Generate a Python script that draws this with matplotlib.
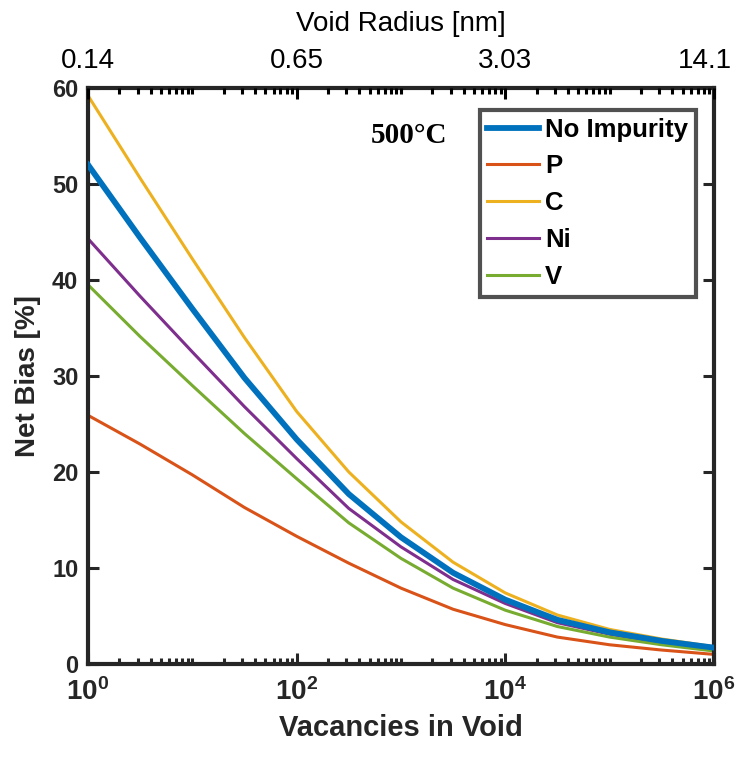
import matplotlib
matplotlib.use('Agg')
import matplotlib.pyplot as plt
from matplotlib.ticker import FixedLocator, FixedFormatter, LogLocator, NullFormatter
from matplotlib.transforms import ScaledTranslation
import numpy as np

# values, every half decade
vacancies = [1, 3.16, 10, 31.6, 100, 316, 1e3, 3.16e3, 1e4, 3.16e4, 1e5, 3.16e5, 1e6]
bias_none = [52.0, 44.4, 37.0, 29.8, 23.4, 17.7, 13.2, 9.5, 6.7, 4.6, 3.3, 2.4, 1.7]
bias_p = [25.9, 22.9, 19.7, 16.3, 13.3, 10.5, 7.9, 5.7, 4.1, 2.8, 2.0, 1.45, 1.0]
bias_c = [59.2, 50.6, 42.2, 34.0, 26.3, 20.0, 14.8, 10.6, 7.4, 5.1, 3.6, 2.6, 1.8]
bias_ni = [44.3, 38.3, 32.5, 26.8, 21.4, 16.2, 12.2, 8.8, 6.3, 4.3, 3.1, 2.2, 1.55]
bias_v = [39.5, 34.1, 29.0, 24.0, 19.3, 14.7, 11.0, 7.9, 5.6, 3.9, 2.8, 2.0, 1.35]

bottom_ticks = [1, 1e2, 1e4, 1e6]
bottom_labels = [r'$\mathbf{10^{0}}$', r'$\mathbf{10^{2}}$', r'$\mathbf{10^{4}}$', r'$\mathbf{10^{6}}$']
radius_labels = ['0.14', '0.65', '3.03', '14.1']

plt.rcParams['font.family'] = ['Liberation Sans', 'DejaVu Sans']
plt.rcParams['mathtext.fontset'] = 'custom'
plt.rcParams['mathtext.rm'] = 'Liberation Sans'
plt.rcParams['mathtext.bf'] = 'Liberation Sans:bold'

dark = '#262626'

fig = plt.figure(figsize=(7.36, 7.61), dpi=100)
ax = fig.add_axes([0.1196, 0.1275, 0.8504, 0.7569])

ax.plot(vacancies, bias_none, color='#0072BD', lw=4.2, label='No Impurity', zorder=3)
ax.plot(vacancies, bias_p, color='#D95319', lw=2.2, label='P')
ax.plot(vacancies, bias_c, color='#EDB120', lw=2.2, label='C')
ax.plot(vacancies, bias_ni, color='#7E2F8E', lw=2.2, label='Ni')
ax.plot(vacancies, bias_v, color='#77AC30', lw=2.2, label='V')

ax.set_xscale('log')
ax.set_xlim(1, 1e6)
ax.set_ylim(0, 60)
ax.xaxis.set_major_locator(FixedLocator(bottom_ticks))
ax.xaxis.set_major_formatter(FixedFormatter(bottom_labels))
ax.xaxis.set_minor_locator(LogLocator(base=10, subs=np.arange(1, 10), numticks=20))
ax.xaxis.set_minor_formatter(NullFormatter())
ax.set_yticks(np.arange(0, 61, 10))

ax.tick_params(axis='both', which='both', direction='in', colors=dark, width=2.2,
               right=True, top=False)
ax.tick_params(axis='x', which='major', length=8, labelsize=20, pad=10)
ax.tick_params(axis='x', which='minor', length=4)
ax.tick_params(axis='y', which='major', length=8, labelsize=17, pad=7)
for lbl in ax.get_yticklabels():
    lbl.set_fontweight('bold')

for s in ax.spines.values():
    s.set_linewidth(3)
    s.set_color(dark)

ax.set_xlabel('Vacancies in Void', fontsize=21, fontweight='bold', color=dark, labelpad=6)
ax.set_ylabel('Net Bias [%]', fontsize=20, fontweight='bold', color=dark, labelpad=8)

# top axis: void radius
ax2 = ax.twiny()
ax2.set_xscale('log')
ax2.set_xlim(1, 1e6)
ax2.xaxis.set_major_locator(FixedLocator(bottom_ticks))
ax2.xaxis.set_major_formatter(FixedFormatter(radius_labels))
ax2.xaxis.set_minor_locator(LogLocator(base=10, subs=np.arange(1, 10), numticks=20))
ax2.xaxis.set_minor_formatter(NullFormatter())
ax2.tick_params(axis='x', which='both', direction='in', colors='black', width=2.2)
ax2.tick_params(axis='x', which='major', length=8, labelsize=20, pad=10)
ax2.tick_params(axis='x', which='minor', length=4)
ax2.set_xlabel('Void Radius [nm]', fontsize=20, labelpad=12)
for s in ax2.spines.values():
    s.set_visible(False)

# keep "14.1" inside the figure
last = ax2.get_xticklabels()[-1]
last.set_transform(last.get_transform() + ScaledTranslation(-9 / 100, 0, fig.dpi_scale_trans))

leg = ax.legend(loc='upper right', bbox_to_anchor=(0.971, 0.962),
                prop={'weight': 'bold', 'size': 18.5}, frameon=True, fancybox=False,
                handlelength=2.0, handletextpad=0.25, labelspacing=0.5,
                borderpad=0.3, borderaxespad=0)
leg.get_frame().set_edgecolor(dark)
leg.get_frame().set_linewidth(3)

ax.text(0.452, 0.918, '500°C', transform=ax.transAxes, fontsize=21, fontweight='bold',
        family='Liberation Serif', ha='left', va='center', color='black')

fig.savefig('out.png', dpi=100)
